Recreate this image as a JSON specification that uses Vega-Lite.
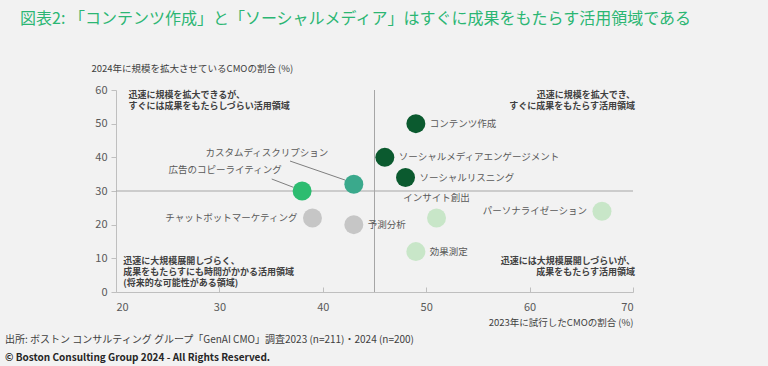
{
  "$schema": "https://vega.github.io/schema/vega-lite/v6.json",
  "background": "#f2f2f2",
  "padding": {"left": 5, "top": 11, "right": 120, "bottom": 4},
  "config": {
    "font": "Noto Sans CJK JP",
    "view": {"stroke": null},
    "concat": {"spacing": 0}
  },
  "title": {
    "text": "図表2: 「コンテンツ作成」と「ソーシャルメディア」はすぐに成果をもたらす活用領域である",
    "anchor": "start",
    "frame": "bounds",
    "color": "#2bb673",
    "fontSize": 16,
    "fontWeight": "normal",
    "offset": 36,
    "dx": 15
  },
  "datasets": {
    "points": [
      {"name": "コンテンツ作成", "x": 49, "y": 50, "group": "A"},
      {"name": "ソーシャルメディアエンゲージメント", "x": 46, "y": 40, "group": "A"},
      {"name": "ソーシャルリスニング", "x": 48, "y": 34, "group": "A"},
      {"name": "広告のコピーライティング", "x": 38, "y": 30, "group": "B"},
      {"name": "カスタムディスクリプション", "x": 43, "y": 32, "group": "C"},
      {"name": "チャットボットマーケティング", "x": 39, "y": 22, "group": "D"},
      {"name": "予測分析", "x": 43, "y": 20, "group": "D"},
      {"name": "インサイト創出", "x": 51, "y": 22, "group": "E"},
      {"name": "パーソナライゼーション", "x": 67, "y": 24, "group": "E"},
      {"name": "効果測定", "x": 49, "y": 12, "group": "E"}
    ],
    "lines": [
      {"kind": "基準線", "x": 45, "y": 0, "x2": 45, "y2": 60},
      {"kind": "基準線", "x": 20, "y": 30, "x2": 70, "y2": 30},
      {"kind": "引出線", "x": 35.06, "y": 33.56, "x2": 37.15, "y2": 31.1},
      {"kind": "引出線", "x": 36.83, "y": 38.9, "x2": 42.15, "y2": 33.26}
    ],
    "quadrants": [
      {"quadrant": "左上", "text": "迅速に規模を拡大できるが、\nすぐには成果をもたらしづらい活用領域", "x": 21.2, "y": 59.7},
      {"quadrant": "右上", "text": "迅速に規模を拡大でき、\nすぐに成果をもたらす活用領域", "x": 70.2, "y": 59.7},
      {"quadrant": "左下", "text": "迅速に大規模展開しづらく、\n成果をもたらすにも時間がかかる活用領域\n(将来的な可能性がある領域)", "x": 20.7, "y": 10.4},
      {"quadrant": "右下", "text": "迅速には大規模展開しづらいが、\n成果をもたらす活用領域", "x": 70.2, "y": 10.4}
    ]
  },
  "vconcat": [
    {
      "width": 517,
      "height": 202,
      "title": {
        "text": "出所: ボストン コンサルティング グループ「GenAI CMO」調査2023 (n=211)・2024 (n=200)",
        "subtitle": "© Boston Consulting Group 2024 - All Rights Reserved.",
        "orient": "bottom",
        "anchor": "start",
        "frame": "bounds",
        "fontSize": 10,
        "fontWeight": "normal",
        "color": "#404040",
        "subtitleFontSize": 10,
        "subtitleFontWeight": "bold",
        "subtitleColor": "#262626",
        "subtitlePadding": 8,
        "offset": 8,
        "dx": -86
      },
      "encoding": {
        "x": {
          "field": "x", "type": "quantitative",
          "scale": {"domain": [20, 70], "nice": false, "zero": false},
          "axis": {
            "title": "2023年に試行したCMOの割合 (%)",
            "values": [20, 30, 40, 50, 60, 70],
            "grid": false,
            "domainColor": "#bfbfbf",
            "tickColor": "#bfbfbf",
            "tickSize": -5,
            "labelColor": "#595959",
            "labelFontSize": 11,
            "labelPadding": 14,
            "titleFontSize": 9.5,
            "titleFontWeight": "normal",
            "titleColor": "#404040",
            "titleAlign": "right",
            "titleAnchor": "end",
            "titleX": 517,
            "titleY": 30,
            "titleBaseline": "middle"
          }
        },
        "y": {
          "field": "y", "type": "quantitative",
          "scale": {"domain": [0, 60], "nice": false},
          "axis": {
            "title": "2024年に規模を拡大させているCMOの割合 (%)",
            "values": [0, 10, 20, 30, 40, 50, 60],
            "grid": false,
            "domainColor": "#bfbfbf",
            "tickColor": "#bfbfbf",
            "tickSize": 5,
            "labelColor": "#595959",
            "labelFontSize": 11,
            "labelPadding": 4,
            "titleFontSize": 9.5,
            "titleFontWeight": "normal",
            "titleColor": "#404040",
            "titleAngle": 0,
            "titleAlign": "left",
            "titleBaseline": "middle",
            "titleX": -25,
            "titleY": -22
          }
        }
      },
      "layer": [
        {
          "data": {"name": "lines"},
          "transform": [{"filter": {"field": "kind", "equal": "基準線"}}],
          "mark": {"type": "rule", "color": "#a6a6a6", "strokeWidth": 1},
          "encoding": {"x2": {"field": "x2"}, "y2": {"field": "y2"}}
        },
        {
          "data": {"name": "lines"},
          "transform": [{"filter": {"field": "kind", "equal": "引出線"}}],
          "mark": {"type": "rule", "color": "#7f7f7f", "strokeWidth": 1},
          "encoding": {"x2": {"field": "x2"}, "y2": {"field": "y2"}}
        },
        {
          "data": {"name": "points"},
          "mark": {"type": "circle", "size": 360, "opacity": 1},
          "encoding": {
            "color": {
              "field": "group", "type": "nominal", "legend": null,
              "scale": {"domain": ["A", "B", "C", "D", "E"], "range": ["#0b5a2f", "#2dbc70", "#3aa98c", "#c6c6c6", "#c8e6c8"]}
            }
          }
        },
        {
          "data": {"name": "points"},
          "transform": [{"filter": {"field": "name", "oneOf": ["コンテンツ作成", "ソーシャルメディアエンゲージメント", "ソーシャルリスニング", "予測分析", "効果測定"]}}],
          "mark": {"type": "text", "align": "left", "baseline": "middle", "dx": 14, "fontSize": 9.5, "color": "#595959"},
          "encoding": {"text": {"field": "name"}}
        },
        {
          "data": {"name": "points"},
          "transform": [{"filter": {"field": "name", "oneOf": ["チャットボットマーケティング", "パーソナライゼーション"]}}],
          "mark": {"type": "text", "align": "right", "baseline": "middle", "dx": -15, "fontSize": 9.5, "color": "#595959"},
          "encoding": {"text": {"field": "name"}}
        },
        {
          "data": {"name": "points"},
          "transform": [{"filter": {"field": "name", "equal": "インサイト創出"}}],
          "mark": {"type": "text", "align": "center", "baseline": "middle", "dy": -20, "fontSize": 9.5, "color": "#595959"},
          "encoding": {"text": {"field": "name"}}
        },
        {
          "data": {"name": "points"},
          "transform": [{"filter": {"field": "name", "equal": "広告のコピーライティング"}}],
          "mark": {"type": "text", "align": "center", "baseline": "middle", "dx": -77, "dy": -21, "fontSize": 9.5, "color": "#595959"},
          "encoding": {"text": {"field": "name"}}
        },
        {
          "data": {"name": "points"},
          "transform": [{"filter": {"field": "name", "equal": "カスタムディスクリプション"}}],
          "mark": {"type": "text", "align": "center", "baseline": "middle", "dx": -87, "dy": -31, "fontSize": 9.5, "color": "#595959"},
          "encoding": {"text": {"field": "name"}}
        },
        {
          "data": {"name": "quadrants"},
          "transform": [{"filter": {"field": "quadrant", "oneOf": ["左上", "左下"]}}],
          "mark": {"type": "text", "align": "left", "baseline": "top", "lineBreak": "\n", "lineHeight": 11, "fontSize": 9, "fontWeight": "bold", "color": "#404040"},
          "encoding": {"text": {"field": "text"}}
        },
        {
          "data": {"name": "quadrants"},
          "transform": [{"filter": {"field": "quadrant", "oneOf": ["右上", "右下"]}}],
          "mark": {"type": "text", "align": "right", "baseline": "top", "lineBreak": "\n", "lineHeight": 11, "fontSize": 9, "fontWeight": "bold", "color": "#404040"},
          "encoding": {"text": {"field": "text"}}
        }
      ]
    }
  ]
}
